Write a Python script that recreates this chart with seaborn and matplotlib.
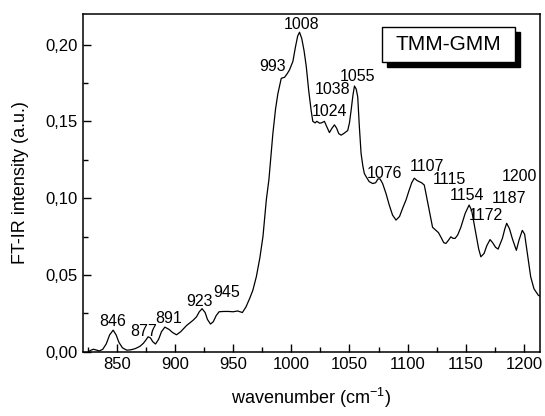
import matplotlib
matplotlib.use("Agg")
import matplotlib.pyplot as plt
import seaborn as sns
import pandas as pd
from matplotlib.patches import Rectangle
from matplotlib.ticker import MultipleLocator, FuncFormatter

wavenumber = [825.7, 828, 830, 832, 835, 838, 841, 844, 847, 849.5, 852, 855, 858.6, 862, 866, 870,
              873, 875, 877, 879, 881, 883.4, 886, 888.5, 891.4, 895, 898, 901.4, 905, 910, 915.7,
              918.6, 921, 923.4, 926, 928, 930.6, 933, 935.5, 938, 942, 946, 950, 954, 958, 961,
              964.3, 967, 970, 973, 975.7, 978.6, 980.8, 984.2, 986.5, 988.5, 991.4, 994.3, 996.5,
              998.5, 1001.4, 1003.5, 1005.5, 1007.1, 1009, 1011, 1012.9, 1015, 1017.1, 1018.5,
              1020.5, 1022, 1024.3, 1026, 1028.5, 1030.5, 1032.8, 1035, 1037.1, 1039, 1040.8,
              1042.8, 1045, 1048.5, 1050, 1051.4, 1053, 1054.3, 1055.8, 1057.1, 1058.5, 1060,
              1061.5, 1062.8, 1064.3, 1067, 1070, 1072.5, 1074.5, 1076.3, 1078.5, 1081.4, 1084,
              1087, 1090, 1093, 1096, 1098.6, 1101, 1103.5, 1105.7, 1108, 1110, 1112, 1114.3,
              1116.5, 1118.6, 1121.4, 1124.3, 1126.5, 1129, 1131, 1132.9, 1135, 1137.1, 1139,
              1140.8, 1143, 1145.7, 1149.4, 1152.8, 1155, 1158.6, 1161, 1162.9, 1165.7, 1168,
              1170.8, 1173, 1175.5, 1177.7, 1181.4, 1183.5, 1185.1, 1187.5, 1190, 1193.4, 1195.7,
              1198.5, 1200.5, 1202.5, 1205.7, 1208.5, 1212.2, 1214]
intensity = [0.0, 0.0010, 0.0016, 0.0012, 0.0005, 0.0015, 0.005, 0.011, 0.014, 0.011, 0.006, 0.0025,
             0.001, 0.0012, 0.0020, 0.0035, 0.0055, 0.0075, 0.0097, 0.009, 0.0065, 0.005, 0.008,
             0.013, 0.016, 0.0145, 0.0125, 0.011, 0.013, 0.017, 0.0205, 0.0227, 0.026, 0.028,
             0.0255, 0.021, 0.018, 0.0195, 0.0235, 0.026, 0.0262, 0.0262, 0.026, 0.0265, 0.0255,
             0.029, 0.0347, 0.040, 0.0488, 0.061, 0.075, 0.099, 0.112, 0.142, 0.158, 0.168, 0.178,
             0.1787, 0.181, 0.1835, 0.189, 0.198, 0.2055, 0.208, 0.204, 0.196, 0.1857, 0.170,
             0.157, 0.150, 0.149, 0.150, 0.1488, 0.149, 0.150, 0.1465, 0.1427, 0.1455, 0.1477,
             0.1455, 0.1420, 0.141, 0.142, 0.144, 0.149, 0.157, 0.167, 0.173, 0.171, 0.166,
             0.1466, 0.129, 0.121, 0.116, 0.114, 0.1107, 0.1095, 0.110, 0.1125, 0.1125, 0.1095,
             0.103, 0.096, 0.089, 0.0857, 0.088, 0.094, 0.0988, 0.1045, 0.110, 0.113, 0.1115,
             0.1107, 0.110, 0.1085, 0.100, 0.092, 0.081, 0.079, 0.0775, 0.074, 0.071, 0.0705,
             0.0725, 0.0748, 0.0738, 0.0738, 0.076, 0.081, 0.090, 0.0955, 0.092, 0.077, 0.067,
             0.0618, 0.064, 0.069, 0.073, 0.071, 0.068, 0.0668, 0.0738, 0.080, 0.0836, 0.080,
             0.0735, 0.066, 0.0727, 0.079, 0.0765, 0.066, 0.0488, 0.041, 0.0368, 0.036]

peak_labels = ["846", "877", "891", "923", "945", "993", "1008", "1024", "1038", "1055",
               "1076", "1107", "1115", "1154", "1172", "1187", "1200"]
label_x = [847, 872.8, 895, 920.8, 944.3, 984.2, 1008.6, 1032.8, 1035.7, 1057.1,
           1080, 1117, 1135.7, 1151.4, 1167, 1187, 1195.7]
label_y = [0.0194, 0.0129, 0.0216, 0.0325, 0.0383, 0.1857, 0.2128, 0.1563, 0.1705, 0.179,
           0.116, 0.1205, 0.1118, 0.102, 0.089, 0.0999, 0.114]

sample_name = "TMM-GMM"

sns.set_style("ticks")
plt.rcParams['font.family'] = ['Liberation Sans', 'DejaVu Sans']
plt.rcParams['mathtext.fontset'] = 'custom'
plt.rcParams['mathtext.rm'] = 'Liberation Sans'
plt.rcParams['mathtext.it'] = 'Liberation Sans:italic'
plt.rcParams['mathtext.default'] = 'regular'
for k in ['text.color', 'axes.labelcolor', 'xtick.color', 'ytick.color', 'axes.edgecolor']:
    plt.rcParams[k] = 'black'

fig = plt.figure(figsize=(5.45, 4.16), dpi=100)
ax = fig.add_axes([0.1517, 0.1546, 0.8391, 0.8129])

df = pd.DataFrame({"wavenumber": wavenumber, "intensity": intensity})
sns.lineplot(data=df, x="wavenumber", y="intensity", ax=ax, color="black",
             linewidth=0.9, sort=False, estimator=None)

for t, x, y in zip(peak_labels, label_x, label_y):
    ax.text(x, y, t, ha="center", va="center", fontsize=11.5, color="black")

ax.set_xlim(820.8, 1213.7)
ax.set_ylim(0, 0.2202)
ax.xaxis.set_major_locator(MultipleLocator(50))
ax.xaxis.set_minor_locator(MultipleLocator(25))
ax.yaxis.set_major_locator(MultipleLocator(0.05))
ax.yaxis.set_minor_locator(MultipleLocator(0.025))
ax.yaxis.set_major_formatter(FuncFormatter(lambda v, p: f"{v:.2f}".replace(".", ",")))
ax.tick_params(axis="both", which="major", direction="in", length=6, width=1,
               labelsize=12, top=False, right=False, colors="black")
ax.tick_params(axis="both", which="minor", direction="in", length=3.5, width=1,
               top=False, right=False, colors="black")
for s in ax.spines.values():
    s.set_visible(True)
    s.set_linewidth(1.1)
    s.set_color("black")

ax.set_xlabel("wavenumber (cm$^{-1}$)", fontsize=13, labelpad=10)
ax.set_ylabel("FT-IR intensity (a.u.)", fontsize=13, labelpad=12)

# legend-like box with drop shadow
bx0, by0, bw, bh = 0.654, 0.857, 0.291, 0.104
ax.add_patch(Rectangle((bx0 + 0.011, by0 - 0.015), bw, bh, transform=ax.transAxes,
                       facecolor="black", edgecolor="black", zorder=5))
ax.add_patch(Rectangle((bx0, by0), bw, bh, transform=ax.transAxes,
                       facecolor="white", edgecolor="black", linewidth=1, zorder=6))
ax.text(bx0 + bw / 2, by0 + bh / 2, sample_name, transform=ax.transAxes,
        ha="center", va="center", fontsize=15, zorder=7)

fig.savefig("out.png", dpi=100)
